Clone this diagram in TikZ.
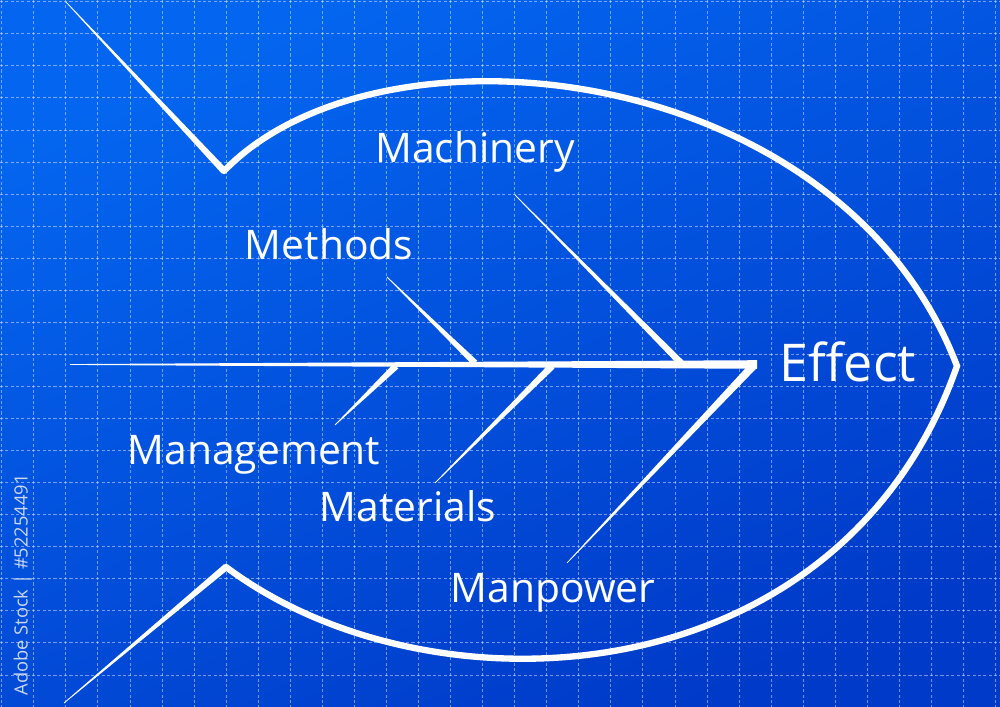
\documentclass[tikz,border=0pt]{standalone}
\usepackage{fontspec}
\setmainfont{Open Sans}
\usetikzlibrary{calc}
\definecolor{bgTop}{RGB}{4,102,240}
\definecolor{bgBot}{RGB}{0,58,200}
\definecolor{wmark}{RGB}{205,215,238}
\tikzset{
  gridline/.style={white,opacity=0.45,line width=0.6pt,dash pattern=on 2.2pt off 1.6pt},
  outline/.style={white,line width=4.5pt,line join=miter,line cap=round},
  label/.style={white,font=\fontsize{29}{34}\selectfont,anchor=base,inner sep=0pt},
  efflabel/.style={white,font=\fontsize{37}{42}\selectfont,anchor=base,inner sep=0pt},
}
% tapered white stroke: from thin end #1 to thick end #2, half width #3
\newcommand{\taperline}[3]{%
  \fill[white] ($(#1)!0.25pt!90:(#2)$) -- ($(#1)!0.25pt!-90:(#2)$)
    -- ($(#2)!#3!90:(#1)$) -- ($(#2)!#3!-90:(#1)$) -- cycle;}
\begin{document}
\begin{tikzpicture}[x=0.025cm,y=-0.025cm]
\useasboundingbox (0,0) rectangle (1000,707);
% background
\shade[top color=bgTop,bottom color=bgBot,shading angle=25] (0,0) rectangle (1000,707);
% grid
\foreach \i in {0,...,31}{
  \draw[gridline] (1.7+32.06*\i,0) -- (1.7+32.06*\i,707);}
\foreach \j in {0,...,22}{
  \draw[gridline] (0,1.7+32.06*\j) -- (1000,1.7+32.06*\j);}
% key points
\coordinate (tailTop) at (66,2);
\coordinate (finTop) at (224,171);
\coordinate (nose) at (957,366);
\coordinate (finBot) at (226,567);
\coordinate (tailBot) at (64,703);
\coordinate (spineL) at (70,364.5);
\coordinate (spineR) at (757,364.5);
\coordinate (machA) at (515,195);
\coordinate (machB) at (681,363);
\coordinate (methA) at (387,277);
\coordinate (methB) at (475,363);
\coordinate (mgmtA) at (335,425);
\coordinate (mgmtB) at (396,366);
\coordinate (matlA) at (435,483);
\coordinate (matlB) at (552,366);
\coordinate (manpA) at (567,563);
\coordinate (manpB) at (754,365);
% fish body
\draw[outline] (finTop) .. controls (380,10) and (840,60) .. (nose)
  .. controls (840,700) and (430,720) .. (finBot);
% tail
\taperline{tailTop}{finTop}{2.4pt}
\taperline{tailBot}{finBot}{2.4pt}
% spine
\fill[white] ($(spineL)+(0,-0.4)$) -- ($(spineR)+(0,-4.3)$) -- ($(spineR)+(0,4.3)$) -- ($(spineL)+(0,0.4)$) -- cycle;
% bones
\taperline{machA}{machB}{2.4pt}
\taperline{methA}{methB}{2.3pt}
\taperline{mgmtA}{mgmtB}{2.4pt}
\taperline{matlA}{matlB}{2.5pt}
\taperline{manpA}{manpB}{2.9pt}
% labels
\node[label] (machinery) at (475,163) {Machinery};
\node[label] (methods) at (329,260) {Methods};
\node[label] (management) at (254,465) {Management};
\node[label] (materials) at (408,522) {Materials};
\node[label] (manpower) at (553,603) {Manpower};
\node[efflabel] (effect) at (848,382) {Effect};
% stock id
\node[wmark,rotate=90,font=\fontsize{13}{15}\selectfont,inner sep=0pt] (stockid) at (23,585) {Adobe Stock | \#52254491};
\end{tikzpicture}
\end{document}
